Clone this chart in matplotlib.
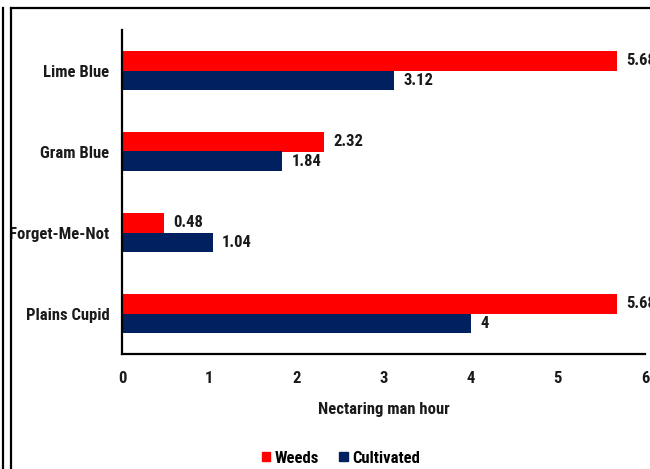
import matplotlib
matplotlib.use("Agg")
import matplotlib.pyplot as plt
from matplotlib.patches import Patch
from matplotlib.lines import Line2D
from matplotlib import font_manager

prefs = ["Liberation Sans Narrow", "Arial Narrow", "Roboto Condensed", "Open Sans Condensed",
         "Noto Sans Condensed", "Asap Condensed", "Barlow Condensed"]
have = {}
for f in font_manager.fontManager.ttflist:
    w = f.weight if isinstance(f.weight, int) else (700 if "bold" in str(f.weight) else 400)
    if w >= 700:
        have.setdefault(f.name, True)
chosen = next((p for p in prefs if p in have), "Liberation Sans")
plt.rcParams['font.family'] = [chosen, 'Liberation Sans', 'DejaVu Sans']
plt.rcParams['font.weight'] = 'bold'

categories = ["Lime Blue", "Gram Blue", "Forget-Me-Not", "Plains Cupid"]
weeds = [5.68, 2.32, 0.48, 5.68]
cultivated = [3.12, 1.84, 1.04, 4]
series_names = ["Weeds", "Cultivated"]
xticks = [0, 1, 2, 3, 4, 5, 6]

RED = "#FF0000"
NAVY = "#002060"
TXT = "#1a1a1a"

fig = plt.figure(figsize=(6.5, 4.69), dpi=100)
W, H = 650, 469
ax = fig.add_axes([122 / W, 115 / H, 523 / W, 324 / H])

n = len(categories)
ypos = [n - 1 - i for i in range(n)]
h = 0.235
yw = [y + h / 2 for y in ypos]
yc = [y - h / 2 for y in ypos]
ax.barh(yw, weeds, height=h, color=RED, label=series_names[0])
ax.barh(yc, cultivated, height=h, color=NAVY, label=series_names[1])

fs = 12
for y, v in zip(yw, weeds):
    ax.text(v + 0.11, y, f"{v:g}", va="center", ha="left", fontsize=fs, fontweight="bold", color=TXT, clip_on=False)
for y, v in zip(yc, cultivated):
    ax.text(v + 0.11, y, f"{v:g}", va="center", ha="left", fontsize=fs, fontweight="bold", color=TXT, clip_on=False)

ax.set_xlim(0, 6)
ax.set_ylim(-0.5, n - 0.5)
ax.set_yticks(ypos)
ax.set_yticklabels(categories, fontsize=fs, fontweight="bold", color=TXT)
ax.set_xticks(xticks)
ax.set_xticklabels([str(t) for t in xticks], fontsize=fs, fontweight="bold", color=TXT)
ax.tick_params(axis="both", length=0)
ax.tick_params(axis="x", pad=12)
ax.tick_params(axis="y", pad=9)
for s in ["top", "right"]:
    ax.spines[s].set_visible(False)
for s in ["left", "bottom"]:
    ax.spines[s].set_linewidth(1.6)
    ax.spines[s].set_color("black")

ax.set_xlabel("Nectaring man hour", fontsize=fs, fontweight="bold", color=TXT, labelpad=12)

handles = [Patch(color=RED, label=series_names[0]), Patch(color=NAVY, label=series_names[1])]
fig.legend(handles=handles, loc="center", bbox_to_anchor=(341 / W, 1 - 458 / H), ncol=2, frameon=False,
           fontsize=fs, handlelength=0.5, handleheight=0.5, handletextpad=0.3, columnspacing=1.2)

lw = 1.6
fig.add_artist(Line2D([3 / W, 3 / W], [0, 1 - 8 / H], color="black", lw=lw))
fig.add_artist(Line2D([11 / W, 11 / W], [0, 1 - 8 / H], color="black", lw=lw))
fig.add_artist(Line2D([11 / W, 1], [1 - 8 / H, 1 - 8 / H], color="black", lw=lw))

fig.savefig("out.png", dpi=100)
